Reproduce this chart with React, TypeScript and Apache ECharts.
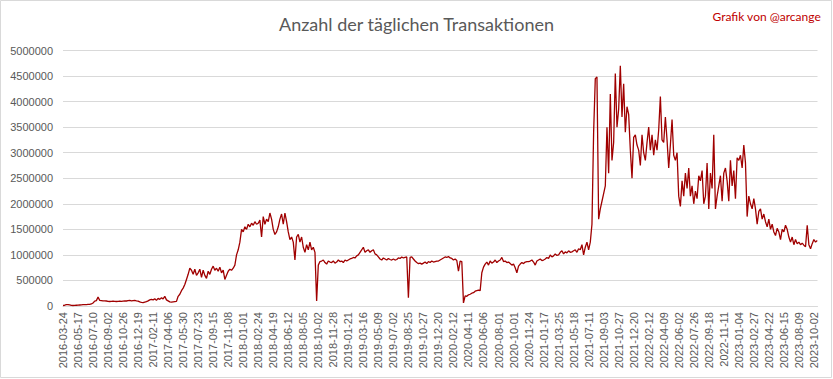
import React, { useEffect, useRef } from "react";
import * as echarts from "echarts";

// Axis tick labels (every 54th category of the daily axis)
const tickLabels = [
  "2016-03-24", "2016-05-17", "2016-07-10", "2016-09-02", "2016-10-26", "2016-12-19",
  "2017-02-11", "2017-04-06", "2017-05-30", "2017-07-23", "2017-09-15", "2017-11-08",
  "2018-01-01", "2018-02-24", "2018-04-19", "2018-06-12", "2018-08-05", "2018-10-02",
  "2018-11-28", "2019-01-21", "2019-03-16", "2019-05-09", "2019-07-02", "2019-08-25",
  "2019-10-27", "2019-12-20", "2020-02-12", "2020-04-11", "2020-06-06", "2020-08-01",
  "2020-10-01", "2020-11-24", "2021-01-17", "2021-03-25", "2021-05-18", "2021-07-11",
  "2021-09-03", "2021-10-27", "2021-12-20", "2022-02-12", "2022-04-09", "2022-06-02",
  "2022-07-26", "2022-09-18", "2022-11-11", "2023-01-04", "2023-02-27", "2023-04-22",
  "2023-06-15", "2023-08-09", "2023-10-02",
];
const DAYS_PER_TICK = 54;
const DAYS_AFTER_LAST_TICK = 14;
const SAMPLE_STEP = 6; // one value read every 6th day

// Daily transactions, read every 6th day (9 values per tick interval)
const transactions = [
  10000, 15000, 25000, 28000, 20000, 12000, 10000, 12000, 15000,
  18000, 20000, 22000, 25000, 25000, 28000, 30000, 32000, 40000,
  60000, 95000, 105000, 175000, 110000, 105000, 100000, 100000, 98000,
  92000, 88000, 90000, 95000, 90000, 88000, 92000, 95000, 90000,
  95000, 100000, 98000, 105000, 110000, 100000, 105000, 110000, 100000,
  95000, 80000, 70000, 65000, 75000, 85000, 100000, 120000, 130000,
  120000, 140000, 110000, 150000, 130000, 160000, 140000, 190000, 120000,
  100000, 80000, 75000, 80000, 85000, 90000, 190000, 230000, 300000,
  350000, 420000, 520000, 620000, 740000, 700000, 620000, 720000, 600000,
  650000, 720000, 560000, 700000, 600000, 540000, 680000, 620000, 720000,
  780000, 700000, 740000, 680000, 760000, 650000, 700000, 520000, 600000,
  680000, 720000, 700000, 740000, 800000, 1000000, 1100000, 1250000, 1500000,
  1450000, 1550000, 1500000, 1600000, 1550000, 1620000, 1580000, 1650000, 1600000,
  1620000, 1680000, 1350000, 1750000, 1600000, 1700000, 1650000, 1820000, 1700000,
  1500000, 1400000, 1450000, 1550000, 1700000, 1800000, 1600000, 1820000, 1650000,
  1450000, 1300000, 1350000, 1250000, 900000, 1350000, 1400000, 1250000, 1350000,
  1150000, 1050000, 1200000, 1100000, 1250000, 1100000, 1150000, 1050000, 100000,
  800000, 870000, 880000, 900000, 850000, 820000, 880000, 860000, 850000,
  880000, 840000, 860000, 900000, 870000, 880000, 850000, 900000, 880000,
  900000, 920000, 930000, 950000, 940000, 980000, 1000000, 1050000, 1100000,
  1150000, 1050000, 1080000, 1100000, 1050000, 1080000, 1100000, 1020000, 1000000,
  960000, 920000, 900000, 940000, 920000, 900000, 930000, 910000, 900000,
  920000, 900000, 910000, 940000, 930000, 960000, 940000, 950000, 960000,
  160000, 950000, 960000, 920000, 880000, 850000, 830000, 840000, 820000,
  840000, 860000, 830000, 870000, 850000, 880000, 860000, 870000, 880000,
  880000, 900000, 920000, 940000, 960000, 950000, 970000, 940000, 930000,
  900000, 920000, 890000, 680000, 880000, 870000, 60000, 200000, 190000,
  220000, 230000, 250000, 260000, 290000, 300000, 310000, 300000, 650000,
  760000, 820000, 860000, 800000, 880000, 840000, 860000, 900000, 850000,
  880000, 900000, 950000, 870000, 880000, 850000, 860000, 830000, 800000,
  820000, 750000, 650000, 780000, 820000, 850000, 830000, 860000, 870000,
  870000, 880000, 900000, 860000, 800000, 880000, 900000, 920000, 890000,
  900000, 920000, 950000, 930000, 1000000, 960000, 980000, 1020000, 990000,
  1000000, 1050000, 1080000, 1020000, 1060000, 1040000, 1080000, 1050000, 1060000,
  1080000, 1100000, 1050000, 1120000, 1100000, 1200000, 1000000, 1150000, 1250000,
  1100000, 1250000, 1600000, 3400000, 4450000, 4480000, 1700000, 1900000, 2050000,
  2200000, 2350000, 3500000, 2600000, 4150000, 2850000, 3200000, 4550000, 3500000,
  3850000, 4700000, 3700000, 4350000, 3400000, 3900000, 3750000, 3050000, 2500000,
  3300000, 3350000, 3150000, 3050000, 2750000, 3350000, 3000000, 2850000, 3200000,
  3500000, 3050000, 3350000, 2950000, 3250000, 3050000, 3450000, 4100000, 3250000,
  3200000, 3700000, 3250000, 2700000, 3150000, 3650000, 2950000, 2850000, 3000000,
  2150000, 1950000, 2450000, 2150000, 2600000, 2300000, 2700000, 2150000, 2350000,
  2000000, 2250000, 2100000, 2550000, 2450000, 2650000, 2000000, 2150000, 2800000,
  1900000, 2600000, 2300000, 3350000, 1900000, 2150000, 2350000, 2550000, 2050000,
  2600000, 2700000, 2450000, 2050000, 2850000, 2350000, 2650000, 2100000, 2900000,
  2850000, 2950000, 2700000, 3150000, 2800000, 1750000, 2150000, 2000000, 1900000,
  2100000, 1900000, 1600000, 1850000, 1900000, 1700000, 1800000, 1650000, 1550000,
  1700000, 1500000, 1600000, 1450000, 1380000, 1520000, 1450000, 1300000, 1500000,
  1450000, 1580000, 1500000, 1350000, 1250000, 1350000, 1200000, 1300000, 1220000,
  1250000, 1200000, 1230000, 1190000, 1160000, 1580000, 1200000, 1120000, 1220000,
  1300000, 1250000, 1280000,
];

const titleText = "Anzahl der täglichen Transaktionen";
const creditText = "Grafik von @arcange";

function addDays(iso: string, n: number): string {
  const d = new Date(iso + "T00:00:00Z");
  d.setUTCDate(d.getUTCDate() + n);
  return d.toISOString().slice(0, 10);
}

const categories: string[] = [];
tickLabels.forEach((t, k) => {
  const n = k === tickLabels.length - 1 ? DAYS_AFTER_LAST_TICK : DAYS_PER_TICK;
  for (let d = 0; d < n; d++) categories.push(addDays(t, d));
});

const seriesData = transactions.map((v, i) => [i * SAMPLE_STEP, v]);

export default function App() {
  const ref = useRef<HTMLDivElement>(null);
  useEffect(() => {
    if (!ref.current) return;
    const chart = echarts.init(ref.current, null, { renderer: "svg" });
    chart.setOption({
      animation: false,
      backgroundColor: "#ffffff",
      title: {
        text: titleText,
        left: "center",
        top: 10,
        textStyle: {
          fontFamily: "Lato, 'Open Sans', sans-serif",
          fontSize: 18,
          fontWeight: "normal",
          color: "#595959",
        },
      },
      graphic: [
        {
          type: "rect",
          shape: { x: 0.5, y: 0.5, width: 831, height: 377 },
          style: { fill: "none", stroke: "#d9d9d9", lineWidth: 1 },
          silent: true,
        },
        {
          type: "text",
          right: 12,
          top: 10,
          style: {
            text: creditText,
            fill: "#c00000",
            font: "12px Lato, 'Open Sans', sans-serif",
          },
        },
      ],
      grid: { left: 63, right: 15.5, top: 50.5, bottom: 73 },
      xAxis: {
        type: "category",
        data: categories,
        boundaryGap: false,
        axisTick: { show: false },
        axisLine: { lineStyle: { color: "#d9d9d9" } },
        axisLabel: {
          interval: DAYS_PER_TICK - 1,
          rotate: 90,
          fontSize: 11,
          color: "#595959",
          margin: 6,
          fontFamily: "'Liberation Sans', Arial, sans-serif",
        },
        splitLine: { show: false },
      },
      yAxis: {
        type: "value",
        min: 0,
        max: 5000000,
        interval: 500000,
        axisLine: { show: false },
        axisTick: { show: false },
        axisLabel: {
          fontSize: 11,
          color: "#595959",
          margin: 10,
          fontFamily: "'Liberation Sans', Arial, sans-serif",
          formatter: (v: number) => String(v),
        },
        splitLine: { lineStyle: { color: "#d9d9d9" } },
      },
      series: [
        {
          type: "line",
          data: seriesData,
          showSymbol: false,
          symbol: "none",
          lineStyle: { color: "#a00000", width: 1.3 },
          emphasis: { disabled: true },
        },
      ],
    });
    return () => chart.dispose();
  }, []);
  return (
    <div
      ref={ref}
      style={{ position: "fixed", left: 0, top: 0, width: 833, height: 379 }}
    />
  );
}
